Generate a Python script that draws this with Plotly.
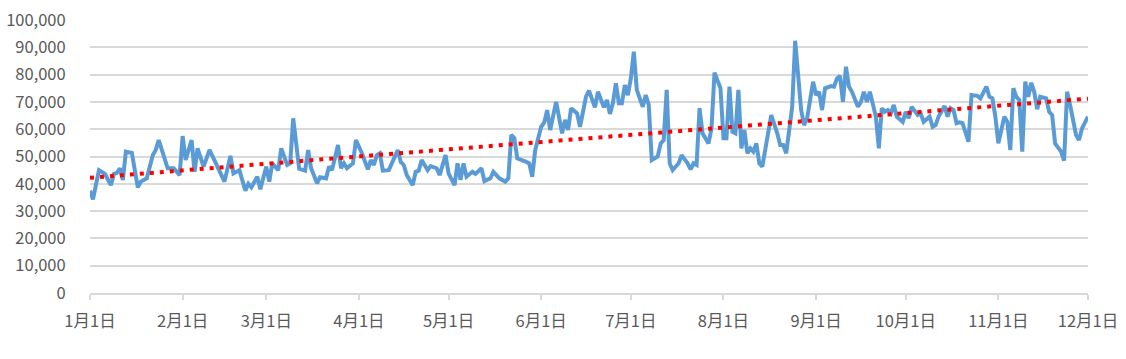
import numpy as np
import pandas as pd
import plotly.graph_objects as go

# Day offsets from Jan 1 and values (thousands)
days = [0, 1, 3, 5, 7, 8, 9, 10, 11, 12, 14, 16, 17, 19, 21, 22, 23, 26, 28, 30,
        31, 32, 34, 35, 36, 38, 40, 42, 45, 47, 48, 50, 52, 53, 54, 56, 57, 59, 60, 61,
        63, 64, 66, 67, 68, 70, 72, 73, 74, 76, 77, 79, 80, 81, 83, 84, 85, 86, 88, 89,
        91, 93, 94, 95, 96, 97, 98, 100, 102, 103, 104, 105, 106, 108, 109, 110, 111, 113, 114, 116,
        117, 119, 120, 122, 123, 124, 125, 126, 128, 129, 131, 132, 134, 135, 137, 139, 140, 141, 142, 143,
        146, 147, 148, 149, 151, 152, 153, 154, 156, 157, 158, 159, 160, 161, 163, 164, 166, 167, 169, 170,
        172, 173, 174, 175, 176, 177, 178, 179, 180, 181, 182, 183, 185, 186, 187, 188, 190, 191, 192, 193,
        194, 195, 197, 198, 200, 201, 202, 203, 204, 205, 207, 208, 209, 211, 212, 213, 214, 215, 216, 217,
        218, 219, 220, 221, 222, 223, 224, 225, 227, 228, 230, 231, 232, 233, 235, 236, 238, 239, 240, 241,
        242, 243, 244, 245, 246, 248, 249, 250, 251, 252, 253, 254, 255, 257, 258, 259, 260, 261, 262, 263,
        264, 265, 266, 267, 268, 269, 270, 272, 273, 274, 275, 277, 278, 279, 281, 282, 283, 284, 286, 287,
        288, 289, 290, 291, 292, 294, 295, 297, 298, 299, 300, 301, 302, 303, 304, 306, 307, 308, 309, 310,
        311, 312, 313, 314, 315, 316, 317, 318, 320, 321, 322, 323, 325, 326, 327, 328, 330, 331, 332, 334]
values_k = [37.5, 34.3, 45.0, 43.6, 39.5, 43.6, 44.0, 45.7, 41.4, 51.8, 51.3, 38.7, 40.8, 42.0, 50.5, 52.4, 56.0, 45.7, 45.7, 43.2,
            57.5, 48.7, 56.0, 44.4, 53.0, 46.3, 52.4, 48.0, 40.8, 50.2, 43.8, 45.0, 37.5, 40.0, 38.7, 42.6, 38.0, 46.3, 40.8, 47.5,
            45.0, 53.0, 46.9, 47.5, 64.0, 45.5, 44.8, 52.4, 45.7, 40.2, 42.4, 42.0, 46.3, 45.0, 54.2, 45.7, 47.5, 45.7, 47.5, 56.0,
            51.2, 45.3, 48.7, 46.9, 50.5, 51.2, 44.8, 45.0, 50.5, 52.4, 48.0, 46.9, 43.2, 39.5, 44.4, 44.8, 48.7, 45.0, 46.5, 45.7,
            43.2, 50.5, 43.8, 39.5, 47.5, 41.4, 47.5, 42.6, 44.4, 43.6, 45.7, 41.0, 42.0, 44.4, 42.0, 40.8, 42.0, 57.9, 56.7, 49.3,
            48.0, 47.5, 42.6, 52.4, 60.9, 62.4, 67.0, 59.7, 70.0, 63.4, 58.5, 63.4, 59.7, 67.7, 65.8, 60.9, 71.9, 74.1, 68.0, 73.7,
            68.0, 70.7, 65.6, 69.5, 76.8, 69.5, 69.5, 76.2, 72.5, 78.6, 88.4, 74.4, 68.2, 72.5, 68.9, 48.7, 50.0, 54.8, 56.0, 74.4,
            47.5, 45.0, 47.5, 50.5, 47.5, 45.3, 47.5, 46.9, 67.7, 58.5, 54.8, 60.3, 80.7, 75.0, 56.7, 56.7, 75.6, 59.1, 58.5, 74.4,
            53.0, 59.7, 51.2, 53.0, 51.8, 54.8, 47.5, 46.3, 58.5, 65.2, 58.5, 54.2, 54.2, 51.2, 68.2, 92.4, 67.0, 61.5, 64.0, 71.3,
            77.4, 72.5, 73.7, 67.0, 75.0, 75.8, 75.6, 78.6, 79.5, 70.0, 82.9, 75.6, 73.7, 68.2, 70.0, 73.7, 70.0, 73.7, 69.5, 64.6,
            53.0, 67.7, 66.4, 67.0, 65.8, 68.9, 64.6, 62.7, 66.4, 64.0, 68.2, 65.2, 65.8, 62.7, 64.6, 60.9, 61.5, 64.6, 68.5, 64.6,
            67.7, 67.0, 62.2, 62.5, 62.2, 55.4, 72.5, 72.2, 71.3, 73.2, 75.6, 71.9, 71.3, 64.6, 54.8, 64.6, 62.7, 52.4, 75.0, 71.9,
            70.7, 51.8, 77.4, 71.9, 77.0, 73.7, 67.3, 71.9, 71.3, 66.4, 65.2, 54.8, 51.8, 48.5, 73.7, 68.9, 57.9, 56.0, 60.3, 64.6]

start_date = "2023-01-01"
end_date = "2023-12-01"
y_ticks = list(range(0, 100001, 10000))

dates = pd.Timestamp(start_date) + pd.to_timedelta(days, unit="D")
values = [v * 1000 for v in values_k]

# Linear trendline (least squares) over the data
slope, intercept = np.polyfit(days, values, 1)
end_day = (pd.Timestamp(end_date) - pd.Timestamp(start_date)).days
trend_days = [0, end_day]
trend_dates = pd.Timestamp(start_date) + pd.to_timedelta(trend_days, unit="D")
trend_vals = [intercept + slope * d for d in trend_days]

fig = go.Figure()
fig.add_trace(go.Scatter(
    x=dates, y=values, mode="lines",
    line=dict(color="#5B9BD5", width=4),
    showlegend=False, hoverinfo="skip",
))
fig.add_trace(go.Scatter(
    x=trend_dates, y=trend_vals, mode="lines",
    line=dict(color="#FF0000", width=4, dash="4px,6px"),
    showlegend=False, hoverinfo="skip",
))

font_family = "Noto Sans CJK JP, Noto Sans, sans-serif"
fig.update_layout(
    width=1126, height=359,
    margin=dict(l=90, r=38, t=20, b=66),
    paper_bgcolor="white", plot_bgcolor="white",
    font=dict(family=font_family, size=16.5, color="#595959"),
    hovermode=False,
    xaxis=dict(
        type="date",
        range=[start_date, end_date],
        tick0=start_date, dtick="M1",
        tickformat="%-m月%-d日",
        showgrid=False,
        showline=True, linecolor="#D9D9D9", linewidth=2,
        ticks="outside", ticklen=5, tickcolor="#D9D9D9", tickwidth=2,
        ticklabelstandoff=7,
        tickfont=dict(size=16.5, color="#595959"),
        zeroline=False,
        automargin=False,
    ),
    yaxis=dict(
        range=[0, 100000],
        tickvals=y_ticks,
        tickformat=",d",
        showgrid=True, gridcolor="#D9D9D9", gridwidth=2,
        zeroline=False, showline=False,
        ticks="outside", ticklen=20, tickcolor="rgba(0,0,0,0)",
        tickfont=dict(size=16.5, color="#595959"),
        automargin=False,
    ),
)

fig.write_html("out.html", config={"displayModeBar": False},
               post_script="document.body.style.margin='0';")
